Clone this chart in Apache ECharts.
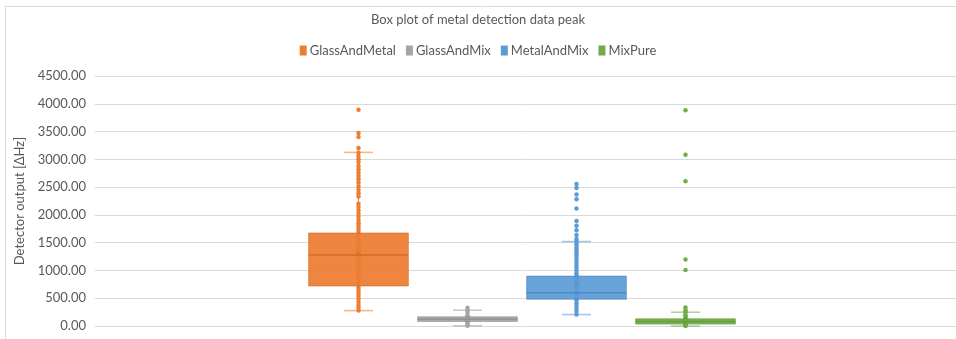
<!DOCTYPE html>
<html>
<head>
<meta charset="utf-8">
<script src="https://cdn.jsdelivr.net/npm/echarts@6/dist/echarts.min.js"></script>
<style>
  html, body { margin: 0; padding: 0; background: #ffffff; }
  #chart { width: 956px; height: 339px; }
</style>
</head>
<body>
<div id="chart"></div>
<script>
// Groups and their palette
const groups = ['GlassAndMetal', 'GlassAndMix', 'MetalAndMix', 'MixPure'];
const colors = ['#ED7D31', '#A5A5A5', '#5B9BD5', '#70AD47'];
const darkColors = ['#C8641F', '#8A8A8A', '#4581BA', '#5A9236'];
const capColors = ['rgba(237,125,49,0.55)', 'rgba(165,165,165,0.6)', 'rgba(91,155,213,0.55)', 'rgba(112,173,71,0.55)'];

// Y axis ticks
const yMin = 0;
const yMax = 4500;
const yStep = 500;

// Five-number summaries: [lower whisker, Q1, median, Q3, upper whisker]
const glassAndMetalBox = [277, 720, 1280, 1674, 3125];
const glassAndMixBox = [4, 81, 123, 165, 285];
const metalAndMixBox = [206, 481, 600, 898, 1520];
const mixPureBox = [0, 34, 80, 129, 248];

// Means
const glassAndMetalMean = 1305;
const glassAndMixMean = 130;
const metalAndMixMean = 770;
const mixPureMean = 150;

// Individual peak readings
const glassAndMetalPoints = [
  3893, 3476, 3400, 3203,
  3125, 3060, 3000, 2950, 2880, 2820, 2760, 2700, 2640, 2580, 2510, 2450, 2390, 2330,
  2200, 2140, 2080, 2020, 1960, 1900, 1850, 1800, 1750, 1700,
  1650, 1600, 1560, 1510, 1470, 1420, 1380, 1330, 1290, 1250, 1200, 1160, 1110,
  1060, 1020, 970, 930, 880, 840, 790, 750,
  690, 640, 590, 540, 490, 430, 380, 330, 277
];
const glassAndMixPoints = [330, 285, 250, 200, 165, 140, 123, 100, 81, 50, 20, 4];
const metalAndMixPoints = [
  2558, 2486, 2366, 2282, 2116, 1888, 1806, 1722, 1638, 1566,
  1520, 1470, 1420, 1380, 1330, 1290, 1240, 1190, 1140, 1090, 1050, 1000, 950, 910,
  880, 850, 810, 780, 740, 700, 660, 620, 580, 540, 500,
  460, 410, 360, 310, 260, 206
];
const mixPurePoints = [3882, 3082, 2604, 1197, 1006, 331, 284, 248, 200, 160, 129, 110, 90, 70, 50, 34, 15, 0];

const boxes = [glassAndMetalBox, glassAndMixBox, metalAndMixBox, mixPureBox];
const means = [glassAndMetalMean, glassAndMixMean, metalAndMixMean, mixPureMean];
const points = [glassAndMetalPoints, glassAndMixPoints, metalAndMixPoints, mixPurePoints];

const FONT = 'Lato';
const TEXT = '#595959';

// Whisker stems and caps (drawn beneath the points)
function renderWhisker(i) {
  return function (params, api) {
    const x = api.value(0);
    const lo = api.coord([x, api.value(1)]);
    const q1 = api.coord([x, api.value(2)]);
    const q3 = api.coord([x, api.value(4)]);
    const hi = api.coord([x, api.value(5)]);
    const band = api.size([1, 0])[0];
    const capHalf = band * 0.133;
    const cx = lo[0];
    return {
      type: 'group',
      children: [
        { type: 'line', shape: { x1: cx, y1: q3[1], x2: cx, y2: hi[1] }, style: { stroke: colors[i], lineWidth: 1 } },
        { type: 'line', shape: { x1: cx, y1: q1[1], x2: cx, y2: lo[1] }, style: { stroke: colors[i], lineWidth: 1 } },
        { type: 'line', shape: { x1: cx - capHalf, y1: hi[1], x2: cx + capHalf, y2: hi[1] }, style: { stroke: capColors[i], lineWidth: 1.6 } },
        { type: 'line', shape: { x1: cx - capHalf, y1: lo[1], x2: cx + capHalf, y2: lo[1] }, style: { stroke: capColors[i], lineWidth: 1.6 } }
      ]
    };
  };
}

// Box and median line (drawn over the points)
function renderBox(i) {
  return function (params, api) {
    const x = api.value(0);
    const q1 = api.coord([x, api.value(2)]);
    const med = api.coord([x, api.value(3)]);
    const q3 = api.coord([x, api.value(4)]);
    const band = api.size([1, 0])[0];
    const bw = band * 0.915;
    const cx = q1[0];
    return {
      type: 'group',
      children: [
        {
          type: 'rect',
          shape: { x: cx - bw / 2, y: q3[1], width: bw, height: Math.max(q1[1] - q3[1], 1) },
          style: { fill: colors[i], opacity: 0.93, stroke: darkColors[i], lineWidth: 1, strokeOpacity: 0.6 }
        },
        {
          type: 'line',
          shape: { x1: cx - bw / 2, y1: med[1], x2: cx + bw / 2, y2: med[1] },
          style: { stroke: darkColors[i], lineWidth: 1.5, opacity: 0.7 }
        }
      ]
    };
  };
}

const series = [];
groups.forEach(function (name, i) {
  const stats = [[name].concat(boxes[i])];
  series.push({
    name: name, type: 'custom', xAxisIndex: 1, yAxisIndex: 1, z: 2,
    itemStyle: { color: colors[i] },
    encode: { x: 0, y: [1, 2, 3, 4, 5] },
    renderItem: renderWhisker(i), data: stats, silent: true
  });
  series.push({
    name: name, type: 'scatter', xAxisIndex: 1, yAxisIndex: 1, z: 3,
    symbol: 'circle', symbolSize: 4.5,
    itemStyle: { color: colors[i], opacity: 1 },
    data: points[i].map(function (v) { return [name, v]; }), silent: true
  });
  series.push({
    name: name, type: 'custom', xAxisIndex: 1, yAxisIndex: 1, z: 4,
    itemStyle: { color: colors[i] },
    encode: { x: 0, y: [1, 2, 3, 4, 5] },
    renderItem: renderBox(i), data: stats, silent: true
  });
  series.push({
    name: name, type: 'scatter', xAxisIndex: 1, yAxisIndex: 1, z: 5,
    symbol: 'path://M0,0L10,10M10,0L0,10', symbolSize: 6,
    itemStyle: { color: 'none', borderColor: darkColors[i], borderWidth: 1, opacity: 0.5 },
    data: [[name, means[i]]], silent: true
  });
});

const chart = echarts.init(document.getElementById('chart'), null, { renderer: 'canvas' });
chart.setOption({
  animation: false,
  backgroundColor: '#ffffff',
  textStyle: { fontFamily: FONT },
  graphic: [{
    type: 'rect', left: 3, top: 4, silent: true,
    shape: { width: 1000, height: 400 },
    style: { fill: 'none', stroke: '#D9D9D9', lineWidth: 1 }
  }],
  title: {
    text: 'Box plot of metal detection data peak',
    left: 'center', top: 8,
    textStyle: { fontFamily: FONT, fontSize: 13, fontWeight: 'normal', color: TEXT }
  },
  legend: {
    top: 39, left: 'center',
    icon: 'rect', itemWidth: 7, itemHeight: 10, itemGap: 10,
    textStyle: { fontFamily: FONT, fontSize: 13, color: TEXT, padding: [0, 0, 0, -2] },
    data: groups.map(function (g, i) { return { name: g, itemStyle: { color: colors[i] } }; })
  },
  grid: [
    { left: 95, top: 76, width: 900, bottom: 13 },
    { left: 304, top: 76, width: 436, bottom: 13 }
  ],
  xAxis: [
    { type: 'category', gridIndex: 0, data: [''], show: false },
    { type: 'category', gridIndex: 1, data: groups, show: false }
  ],
  yAxis: [
    {
      type: 'value', gridIndex: 0, min: yMin, max: yMax, interval: yStep,
      axisLine: { show: false }, axisTick: { show: false },
      splitLine: { lineStyle: { color: '#D9D9D9', width: 1 } },
      axisLabel: {
        fontFamily: FONT, fontSize: 13, color: TEXT, margin: 9,
        formatter: function (v) { return v.toFixed(2); }
      },
      name: 'Detector output [\u0394Hz]', nameLocation: 'middle', nameGap: 69,
      nameRotate: 90,
      nameTextStyle: { fontFamily: FONT, fontSize: 13, color: TEXT }
    },
    {
      type: 'value', gridIndex: 1, min: yMin, max: yMax, interval: yStep, show: false,
      splitLine: { show: false }
    }
  ],
  series: series
});
</script>
</body>
</html>
